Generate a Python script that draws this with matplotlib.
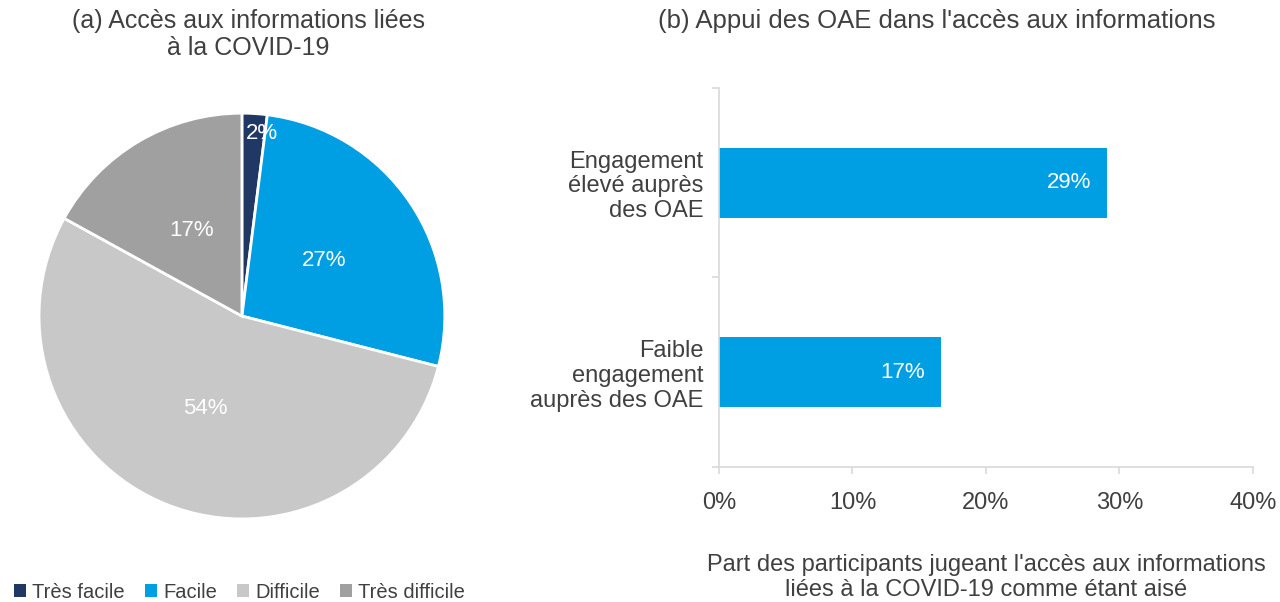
import matplotlib.pyplot as plt
import matplotlib
import numpy as np
from matplotlib.patches import Patch

matplotlib.rcParams['font.family'] = ['Liberation Sans', 'DejaVu Sans']
txt = '#404040'

# données
pie_labels = ['Très facile', 'Facile', 'Difficile', 'Très difficile']
pie_values = [2, 27, 54, 17]
pie_colors = ['#203864', '#009FE3', '#C8C8C8', '#A0A0A0']

bar_cats = ['Faible\nengagement\nauprès des OAE', 'Engagement\nélevé auprès\ndes OAE']
bar_values = [16.6, 29.1]
bar_color = '#009FE3'

fig = plt.figure(figsize=(12.8, 6.02), dpi=100)

# (a) camembert
ax1 = fig.add_axes([0.0305, 0.138, 0.317, 0.674])
wedges, _ = ax1.pie(pie_values, colors=pie_colors, startangle=90, counterclock=False,
                    wedgeprops=dict(edgecolor='white', linewidth=2))
for w, v in zip(wedges, pie_values):
    ang = np.deg2rad((w.theta1 + w.theta2) / 2)
    d = 0.49
    dx = 0
    if v < 5:
        d, dx = 0.9, 0.04
    ax1.text(d * np.cos(ang) + dx, d * np.sin(ang), f'{v}%', ha='center', va='center',
             color='white', fontsize=16)
ax1.set_xlim(-1, 1)
ax1.set_ylim(-1, 1)
ax1.set_aspect('equal')
fig.text(0.194, 0.985, '(a) Accès aux informations liées\nà la COVID-19', ha='center', va='top',
         fontsize=18, color=txt, linespacing=1.15)

handles = [Patch(facecolor=c, edgecolor='none') for c in pie_colors]
fig.legend(handles, pie_labels, loc='lower left', bbox_to_anchor=(-0.003, -0.03), ncol=4,
           frameon=False, fontsize=14.5, handlelength=0.6, handleheight=0.6,
           handletextpad=0.3, columnspacing=1.0, labelcolor=txt)

# (b) barres
ax2 = fig.add_axes([0.5617, 0.2243, 0.4172, 0.6296])
y = np.arange(len(bar_cats))
ax2.barh(y, bar_values, height=0.37, color=bar_color)
for yi, v in zip(y, bar_values):
    ax2.text(v - 1.2, yi, f'{round(v)}%', ha='right', va='center', color='white', fontsize=16)
ax2.set_xlim(0, 40)
ax2.set_ylim(-0.5, 1.5)
ax2.set_xticks([0, 10, 20, 30, 40])
ax2.set_xticklabels(['0%', '10%', '20%', '30%', '40%'])
ax2.set_yticks(y)
ax2.set_yticklabels(bar_cats, ha='right', multialignment='right', linespacing=1.15)
ax2.set_yticks([-0.5, 0.5, 1.5], minor=True)
ax2.tick_params(axis='y', which='major', length=0, pad=11, labelsize=17, labelcolor=txt)
ax2.tick_params(axis='y', which='minor', length=5, color='#D9D9D9', width=1.2)
ax2.tick_params(axis='x', length=5, color='#D9D9D9', width=1.2, labelsize=17,
                labelcolor=txt, pad=13)
for s in ['top', 'right']:
    ax2.spines[s].set_visible(False)
for s in ['left', 'bottom']:
    ax2.spines[s].set_color('#D9D9D9')
    ax2.spines[s].set_linewidth(1.2)
ax2.set_xlabel("Part des participants jugeant l'accès aux informations\nliées à la COVID-19 comme étant aisé",
               fontsize=17, color=txt, labelpad=29, linespacing=1.15)
fig.text(0.732, 0.985, "(b) Appui des OAE dans l'accès aux informations", ha='center', va='top',
         fontsize=18.5, color=txt)

fig.savefig('out.png', dpi=100)
